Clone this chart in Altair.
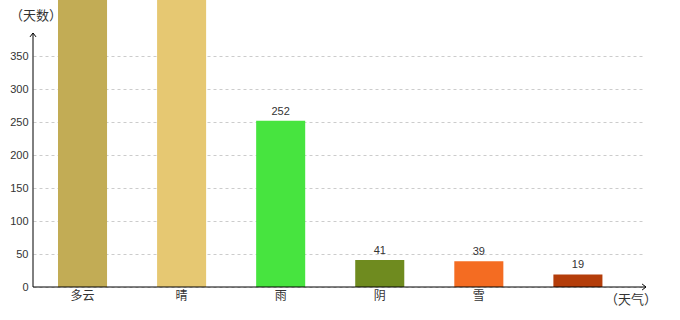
import altair as alt
import pandas as pd

categories = ["多云", "晴", "雨", "阴", "雪", ""]
days = [1050, 980, 252, 41, 39, 19]
colors = ["#C2AC55", "#E6C872", "#47E43F", "#6F8B1F", "#F46C22", "#B43D0A"]
y_ticks = [0, 50, 100, 150, 200, 250, 300, 350]

df = pd.DataFrame({"cat": categories, "days": days, "color": colors})
one = pd.DataFrame({"a": [0]})

W, H = 612, 287
ymax = 287 / 0.66

xenc = alt.X(
    "cat:N", sort=categories,
    scale=alt.Scale(paddingInner=0.505, paddingOuter=0.341, align=0.37),
    axis=alt.Axis(title=None, domain=False, ticks=False, labelAngle=0,
                  labelFont="Noto Sans CJK SC", labelFontSize=12,
                  labelColor="#333333", labelPadding=3),
)
yenc = alt.Y(
    "days:Q",
    scale=alt.Scale(domain=[0, ymax], nice=False, zero=True),
    axis=alt.Axis(title=None, values=y_ticks, domain=False, ticks=False,
                  grid=True, gridDash=[3, 3], gridColor="#cccccc",
                  labelFont="Liberation Sans", labelFontSize=11,
                  labelColor="#333333", labelPadding=5),
)

cjk = "Noto Sans CJK SC"

ytitle = alt.Chart(one).mark_text(
    text="（天数）", font=cjk, fontSize=13, color="#333333",
    align="left", baseline="middle"
).encode(x=alt.value(-23), y=alt.value(16))

xtitle = alt.Chart(one).mark_text(
    text="（天气）", font=cjk, fontSize=13, color="#333333",
    align="left", baseline="middle"
).encode(x=alt.value(572), y=alt.value(300))

bars = alt.Chart(df).mark_bar(clip=True).encode(
    x=xenc, y=yenc, color=alt.Color("color:N", scale=None)
)

labels = alt.Chart(df).transform_filter(
    f"datum.days < {ymax - 20}"
).mark_text(
    clip=True, dy=-4, baseline="bottom", font="Liberation Sans",
    fontSize=11, color="#333333"
).encode(x=alt.X("cat:N", sort=categories), y="days:Q", text="days:Q")

yline = alt.Chart(one).mark_rule(color="black", strokeWidth=1).encode(
    x=alt.value(0), y=alt.value(H), y2=alt.value(33))
xline = alt.Chart(one).mark_rule(color="black", strokeWidth=1).encode(
    x=alt.value(0), x2=alt.value(613), y=alt.value(H))

yarrow = alt.Chart(one).mark_point(
    shape="M-1,1.3L0,0L1,1.3", filled=False, size=36, color="black",
    strokeWidth=1, opacity=1
).encode(x=alt.value(0), y=alt.value(33))
xarrow = alt.Chart(one).mark_point(
    shape="M-1.3,-1L0,0L-1.3,1", filled=False, size=36, color="black",
    strokeWidth=1, opacity=1
).encode(x=alt.value(613), y=alt.value(H))

chart = alt.layer(
    ytitle, bars, labels, yline, xline, yarrow, xarrow, xtitle
).resolve_scale(x="shared", y="shared").properties(
    width=W, height=H,
    autosize=alt.AutoSizeParams(type="none"),
    padding={"left": 33, "right": 35, "top": 0, "bottom": 33},
    background="white",
).configure_view(stroke=None)

chart.save("out.html", embed_options={"renderer": "svg", "actions": False})
